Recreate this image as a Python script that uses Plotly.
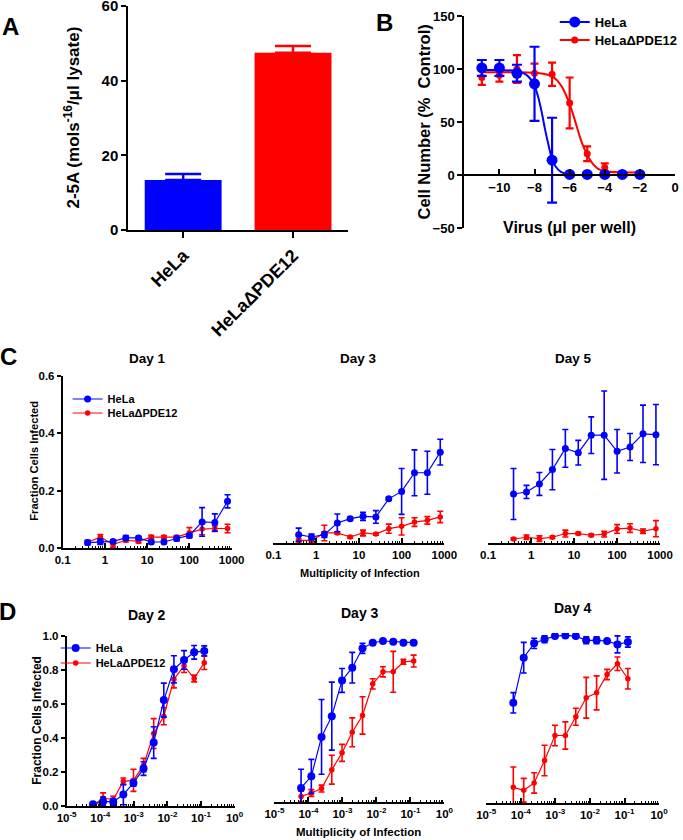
import plotly.graph_objects as go

W, H = 683, 840
BLUE = "#0000ff"
RED = "#ff0000"
FONT = "Liberation Sans, Arial, sans-serif"

# ---- panel A : 2-5A levels
a_groups = ["HeLa", "HeLaΔPDE12"]
a_values = [13.4, 47.5]
a_errors = [1.6, 1.8]

# ---- panel B : cell number vs virus dose (log10 ul per well)
b_dose = [-11, -10, -9, -8, -7, -6, -5, -4, -3, -2]
b_hela = [101, 101, 96, 86, 14, 0.5, 0.5, 0.5, 0.5, 0.5]
b_hela_err = [7.5, 7.5, 8, 35, 40, 1, 1, 1, 1, 1]
b_pde12 = [92, 94, 100, 96, 95, 68, 20, 7, 2, 1]
b_pde12_err = [7, 6, 13, 9, 11, 24, 7, 4, 1, 1]
# fitted curves
b_fit_hela_x = [-11, -10, -9, -8.5, -8.2, -8, -7.8, -7.6, -7.4, -7.2, -7, -6.8, -6.5, -6, -5, -4, -3, -2]
b_fit_hela_y = [99, 99, 98, 95, 90, 84, 74, 60, 43, 28, 15, 8, 3, 0.5, 0, 0, 0, 0]
b_fit_pde_x = [-11, -10, -9, -8, -7.5, -7, -6.7, -6.4, -6.2, -6, -5.8, -5.6, -5.4, -5.2, -5, -4.7, -4.4, -4, -3, -2]
b_fit_pde_y = [97, 97, 97, 96.5, 95.5, 93, 89, 82, 75, 67, 57, 46, 35, 26, 19, 11, 6, 3.5, 2.5, 2.5]

# ---- panel C : fraction infected vs MOI
moi_c = [0.39, 0.78, 1.56, 3.13, 6.25, 12.5, 25, 50, 100, 200, 400, 800]
c1_hela = [0.019, 0.022, 0.023, 0.035, 0.035, 0.021, 0.021, 0.033, 0.044, 0.091, 0.089, 0.163]
c1_hela_err = [0.008, 0.01, 0.006, 0.008, 0.006, 0.006, 0.006, 0.008, 0.006, 0.05, 0.03, 0.023]
c1_pde = [0.02, 0.038, 0.013, 0.027, 0.023, 0.038, 0.038, 0.038, 0.053, 0.066, 0.068, 0.068]
c1_pde_err = [0.005, 0.009, 0.01, 0.006, 0.005, 0.006, 0.005, 0.005, 0.018, 0.02, 0.01, 0.015]
c3_hela = [0.029, 0.021, 0.029, 0.07, 0.085, 0.093, 0.091, 0.154, 0.18, 0.245, 0.245, 0.317]
c3_hela_err = [0.023, 0.01, 0.01, 0.031, 0.005, 0.014, 0.022, 0.005, 0.08, 0.08, 0.075, 0.045]
c3_pde = [0.009, 0.009, 0.035, 0.035, 0.021, 0.035, 0.031, 0.05, 0.058, 0.073, 0.079, 0.091]
c3_pde_err = [0.005, 0.005, 0.027, 0.004, 0.004, 0.01, 0.004, 0.016, 0.03, 0.015, 0.013, 0.02]
c5_hela = [0.171, 0.178, 0.206, 0.256, 0.33, 0.315, 0.376, 0.376, 0.32, 0.335, 0.381, 0.378]
c5_hela_err = [0.089, 0.023, 0.04, 0.07, 0.066, 0.043, 0.064, 0.154, 0.076, 0.047, 0.1, 0.105]
c5_pde = [0.014, 0.02, 0.015, 0.02, 0.033, 0.033, 0.027, 0.031, 0.049, 0.052, 0.041, 0.05]
c5_pde_err = [0.004, 0.008, 0.01, 0.004, 0.012, 0.004, 0.004, 0.01, 0.015, 0.015, 0.008, 0.028]
c_ticks = [0.1, 1, 10, 100, 1000]
c_ticktext = ["0.1", "1", "10", "100", "1000"]

# ---- panel D : fraction infected vs MOI (low range)
moi_d = [6.1e-5, 1.22e-4, 2.44e-4, 4.88e-4, 9.77e-4, 1.95e-3, 3.91e-3, 7.81e-3, 0.0156, 0.0313, 0.0625, 0.125]
d2_hela = [0.01, 0.027, 0.024, 0.067, 0.136, 0.22, 0.373, 0.623, 0.804, 0.859, 0.904, 0.912]
d2_hela_err = [0.005, 0.025, 0.02, 0.06, 0.02, 0.04, 0.093, 0.1, 0.08, 0.055, 0.04, 0.03]
d2_pde = [0.005, 0.047, 0.037, 0.145, 0.151, 0.24, 0.426, 0.528, 0.745, 0.825, 0.75, 0.843]
d2_pde_err = [0.004, 0.03, 0.02, 0.02, 0.065, 0.04, 0.088, 0.05, 0.05, 0.04, 0.02, 0.04]
d3_hela = [0.083, 0.151, 0.383, 0.505, 0.715, 0.79, 0.904, 0.937, 0.947, 0.943, 0.937, 0.937]
d3_hela_err = [0.11, 0.1, 0.22, 0.2, 0.07, 0.09, 0.03, 0.01, 0.008, 0.008, 0.008, 0.008]
d3_pde = [0.033, 0.053, 0.079, 0.19, 0.289, 0.41, 0.509, 0.695, 0.766, 0.766, 0.825, 0.829]
d3_pde_err = [0.03, 0.02, 0.02, 0.085, 0.05, 0.085, 0.11, 0.03, 0.03, 0.12, 0.015, 0.035]
d4_hela = [0.589, 0.855, 0.939, 0.963, 0.982, 0.986, 0.982, 0.957, 0.957, 0.953, 0.933, 0.947]
d4_hela_err = [0.06, 0.09, 0.03, 0.02, 0.008, 0.008, 0.008, 0.02, 0.02, 0.01, 0.05, 0.03]
d4_pde = [0.092, 0.075, 0.118, 0.25, 0.397, 0.397, 0.507, 0.619, 0.648, 0.756, 0.819, 0.731]
d4_pde_err = [0.12, 0.07, 0.06, 0.09, 0.06, 0.08, 0.05, 0.12, 0.1, 0.03, 0.04, 0.06]
d_ticks = [1e-5, 1e-4, 1e-3, 1e-2, 1e-1, 1]
d_ticktext = ["10<sup>-5</sup>", "10<sup>-4</sup>", "10<sup>-3</sup>", "10<sup>-2</sup>", "10<sup>-1</sup>", "10<sup>0</sup>"]


def fx(p):
    return p / W


def fy(p):
    return 1 - p / H


def errs(vals, color, thick, width):
    return dict(type="data", array=vals, color=color, thickness=thick, width=width, visible=True)


fig = go.Figure()

# A: bars with upper error only
for grp, val, err, col in zip(a_groups, a_values, a_errors, [BLUE, RED]):
    fig.add_trace(go.Bar(
        x=[grp], y=[val], width=0.7, marker=dict(color=col, line=dict(width=0)),
        error_y=dict(type="data", array=[err], arrayminus=[0], symmetric=False,
                     color=col, thickness=2.5, width=18),
        xaxis="x", yaxis="y", showlegend=False,
    ))

# B: fitted curves, then points with error bars
fig.add_trace(go.Scatter(x=b_fit_pde_x, y=b_fit_pde_y, mode="lines", line=dict(color=RED, width=2, shape="spline"),
                         xaxis="x2", yaxis="y2", showlegend=False))
fig.add_trace(go.Scatter(x=b_fit_hela_x, y=b_fit_hela_y, mode="lines", line=dict(color=BLUE, width=2, shape="spline"),
                         xaxis="x2", yaxis="y2", showlegend=False))
fig.add_trace(go.Scatter(x=b_dose, y=b_pde12, mode="markers", marker=dict(color=RED, size=7),
                         error_y=errs(b_pde12_err, RED, 2.2, 4), xaxis="x2", yaxis="y2", showlegend=False))
fig.add_trace(go.Scatter(x=b_dose, y=b_hela, mode="markers", marker=dict(color=BLUE, size=11),
                         error_y=errs(b_hela_err, BLUE, 2.2, 5), xaxis="x2", yaxis="y2", showlegend=False))
# legend entries for B (no data, legend only)
fig.add_trace(go.Scatter(x=[None], y=[None], mode="lines+markers", name="HeLa",
                         marker=dict(color=BLUE, size=11), line=dict(color=BLUE, width=2),
                         xaxis="x2", yaxis="y2", legend="legend"))
fig.add_trace(go.Scatter(x=[None], y=[None], mode="lines+markers", name="HeLaΔPDE12",
                         marker=dict(color=RED, size=7), line=dict(color=RED, width=2),
                         xaxis="x2", yaxis="y2", legend="legend2"))

# C and D: curves (legend names only on the first panel of each row)
panels = [
    (moi_c, c1_pde, c1_pde_err, c1_hela, c1_hela_err, "x3", "y3", ("legend3", "legend4"), 7),
    (moi_c, c3_pde, c3_pde_err, c3_hela, c3_hela_err, "x4", "y4", None, 7),
    (moi_c, c5_pde, c5_pde_err, c5_hela, c5_hela_err, "x5", "y5", None, 7),
    (moi_d, d2_pde, d2_pde_err, d2_hela, d2_hela_err, "x6", "y6", ("legend5", "legend6"), 8),
    (moi_d, d3_pde, d3_pde_err, d3_hela, d3_hela_err, "x7", "y7", None, 8),
    (moi_d, d4_pde, d4_pde_err, d4_hela, d4_hela_err, "x8", "y8", None, 8),
]
for xs, pde, pde_err, hela, hela_err, xa, ya, legs, bsize in panels:
    show = legs is not None
    leg_hela, leg_pde = legs if show else ("legend", "legend")
    fig.add_trace(go.Scatter(
        x=xs, y=pde, mode="lines+markers", name="HeLaΔPDE12",
        marker=dict(color=RED, size=5.5), line=dict(color=RED, width=1.2),
        error_y=errs(pde_err, RED, 1.6, 3), xaxis=xa, yaxis=ya,
        showlegend=show, legend=leg_pde,
    ))
    fig.add_trace(go.Scatter(
        x=xs, y=hela, mode="lines+markers", name="HeLa",
        marker=dict(color=BLUE, size=bsize), line=dict(color=BLUE, width=1.2),
        error_y=errs(hela_err, BLUE, 1.6, 3), xaxis=xa, yaxis=ya,
        showlegend=show, legend=leg_hela,
    ))


def axis(**kw):
    base = dict(showline=True, linecolor="black", linewidth=1.6, showgrid=False, zeroline=False,
                ticks="outside", tickcolor="black", tickwidth=1.5, ticklen=5, automargin=False,
                fixedrange=True, ticklabeloverflow="allow")
    base.update(kw)
    return base


def log_x(domain, anchor, rng, tickvals, ticktext, size):
    return axis(domain=domain, anchor=anchor, type="log", range=rng, tickvals=tickvals, ticktext=ticktext,
                ticks="inside", ticklen=5, tickfont=dict(size=size),
                minor=dict(ticks="inside", ticklen=2.5, tickwidth=1, tickcolor="black", dtick="D1", showgrid=False))


layout_axes = dict(
    xaxis=axis(domain=[fx(129), fx(350)], anchor="y", type="category", range=[-0.5, 1.5],
               tickangle=-45, tickfont=dict(size=18), linewidth=2, ticklen=6),
    yaxis=axis(domain=[fy(230), fy(6)], anchor="x", range=[0, 60], tickvals=[0, 20, 40, 60],
               tickfont=dict(size=15), linewidth=2),
    xaxis2=axis(domain=[fx(467), fx(679)], anchor="free", position=fy(175), range=[-12, 0],
                tickvals=[-10, -8, -6, -4, -2, 0], ticks="inside", tickfont=dict(size=13), linewidth=2),
    yaxis2=axis(domain=[fy(228), fy(16)], anchor="x2", range=[-50, 150],
                tickvals=[-50, 0, 50, 100, 150], tickfont=dict(size=13), linewidth=2),
    xaxis3=log_x([fx(63), fx(233)], "y3", [-1, 3], c_ticks, c_ticktext, 11.5),
    yaxis3=axis(domain=[fy(548), fy(376)], anchor="x3", range=[0, 0.6], tickvals=[0, 0.2, 0.4, 0.6],
                tickformat=".1f", tickfont=dict(size=11.5), ticklen=4),
    xaxis4=log_x([fx(275), fx(447)], "y4", [-1, 3], c_ticks, c_ticktext, 11.5),
    yaxis4=dict(domain=[fy(543), fy(371)], anchor="x4", range=[0, 0.6], visible=False, fixedrange=True),
    xaxis5=log_x([fx(491), fx(664)], "y5", [-1, 3], c_ticks, c_ticktext, 11.5),
    yaxis5=dict(domain=[fy(543), fy(371)], anchor="x5", range=[0, 0.6], visible=False, fixedrange=True),
    xaxis6=log_x([fx(67), fx(236)], "y6", [-5, 0], d_ticks, d_ticktext, 11.5),
    yaxis6=axis(domain=[fy(806), fy(636)], anchor="x6", range=[0, 1], tickvals=[0, 0.2, 0.4, 0.6, 0.8, 1.0],
                tickformat=".1f", tickfont=dict(size=11.5), ticklen=4),
    xaxis7=log_x([fx(276), fx(447)], "y7", [-5, 0], d_ticks, d_ticktext, 11.5),
    yaxis7=dict(domain=[fy(802), fy(632)], anchor="x7", range=[0, 1], visible=False, fixedrange=True),
    xaxis8=log_x([fx(489), fx(663)], "y8", [-5, 0], d_ticks, d_ticktext, 11.5),
    yaxis8=dict(domain=[fy(803), fy(633)], anchor="x8", range=[0, 1], visible=False, fixedrange=True),
)


def note(text, x, y, size, angle=0):
    return dict(text=text, x=fx(x), y=fy(y), xref="paper", yref="paper", showarrow=False,
                font=dict(size=size), textangle=angle, xanchor="center", yanchor="middle")


annotations = [
    note("A", 11, 27, 24),
    note("B", 387, 22, 24),
    note("C", 9, 356, 24),
    note("D", 8, 611, 24),
    note("2-5A (mols<sup>-16</sup>/μl lysate)", 72, 118, 17, -90),
    note("Cell Number (%  Control)", 427, 122, 16.5, -90),
    note("Virus (μl per well)", 573, 228, 16),
    note("Day 1", 148, 358, 13.5),
    note("Day 3", 361, 358, 13.5),
    note("Day 5", 577, 358, 13.5),
    note("Fraction Cells Infected", 34, 461, 11.2, -90),
    note("Multiplicity of Infection", 362, 573, 11),
    note("Day 2", 148, 615, 14),
    note("Day 3", 362, 613, 14),
    note("Day 4", 576, 608, 14),
    note("Fraction Cells Infected", 37, 720, 12, -90),
    note("Multiplicity of Infection", 361, 832, 11.5),
]

legend_style = dict(xanchor="left", yanchor="top", bgcolor="rgba(0,0,0,0)", borderwidth=0,
                    itemwidth=30, tracegroupgap=0)


def leg(x, y, size):
    return dict(x=fx(x), y=fy(y), font=dict(size=size), **legend_style)


fig.update_layout(
    width=W, height=H, autosize=False,
    margin=dict(l=0, r=0, t=0, b=0),
    paper_bgcolor="white", plot_bgcolor="white",
    font=dict(family=FONT, color="black", weight="bold"),
    barmode="overlay",
    annotations=annotations,
    legend=leg(558, 7, 13),
    legend2=leg(558, 25, 13),
    legend3=leg(68, 384.5, 11),
    legend4=leg(68, 398.5, 11),
    legend5=leg(56, 633.5, 11),
    legend6=leg(56, 648.5, 11),
    **layout_axes,
)

fig.write_html("out.html", config={"displayModeBar": False},
               post_script="document.body.style.margin = '0px';")
